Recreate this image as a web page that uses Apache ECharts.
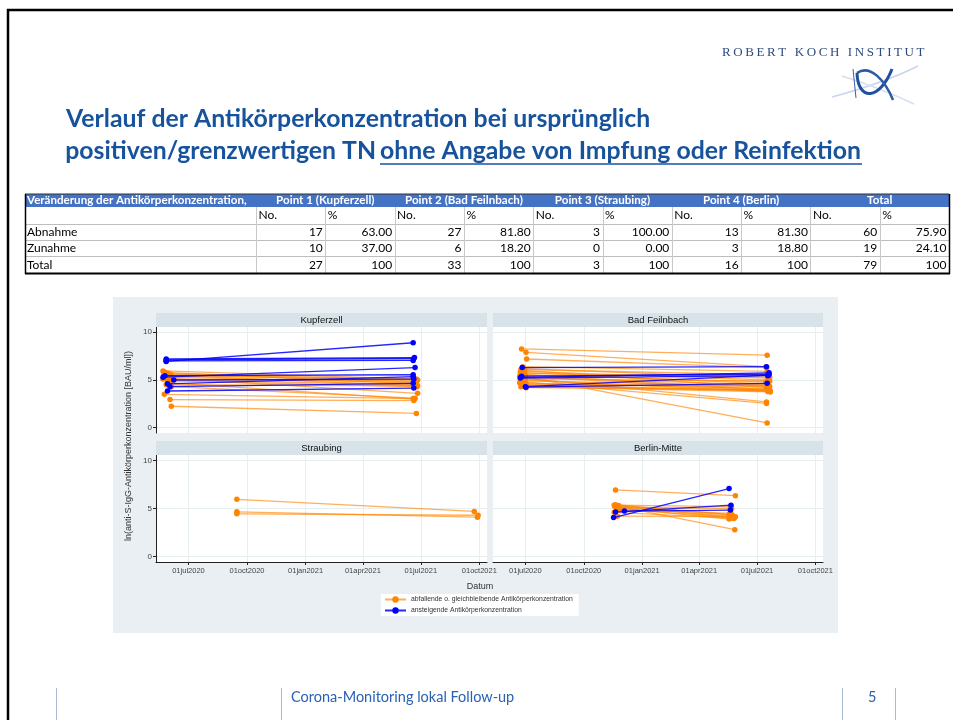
<!DOCTYPE html>
<html>
<head>
<meta charset="utf-8">
<script src="https://cdn.jsdelivr.net/npm/echarts@6/dist/echarts.min.js"></script>
<style>
html, body { margin: 0; padding: 0; background: #fff; }
#main { width: 953px; height: 720px; }
</style>
</head>
<body>
<div id="main"></div>
<script>
// ---- data ----
const panelNames = ['Kupferzell', 'Bad Feilnbach', 'Straubing', 'Berlin-Mitte'];
const xTickDates = ['2020-07-01', '2020-10-01', '2021-01-01', '2021-04-01', '2021-07-01', '2021-10-01'];
const xTickLabels = ['01jul2020', '01oct2020', '01jan2021', '01apr2021', '01jul2021', '01oct2021'];
const yTicks = [0, 5, 10];

// one row per person: [date 1, value 1, date 2, value 2]
const kupferzellFalling = [
  ['2020-05-22', 5.95, '2021-06-24', 5.1],
  ['2020-05-25', 5.8, '2021-06-21', 4.6],
  ['2020-05-30', 5.7, '2021-06-26', 5.0],
  ['2020-06-03', 5.6, '2021-06-22', 4.8],
  ['2020-05-23', 5.5, '2021-06-25', 4.4],
  ['2020-05-28', 5.4, '2021-06-19', 5.2],
  ['2020-06-01', 5.3, '2021-06-24', 4.7],
  ['2020-05-26', 5.2, '2021-06-26', 3.6],
  ['2020-05-22', 5.1, '2021-06-20', 4.9],
  ['2020-06-05', 5.0, '2021-06-23', 4.5],
  ['2020-05-29', 4.9, '2021-06-25', 4.3],
  ['2020-06-02', 4.7, '2021-06-21', 3.0],
  ['2020-05-27', 4.5, '2021-06-26', 4.4],
  ['2020-06-04', 4.3, '2021-06-22', 3.1],
  ['2020-05-24', 3.5, '2021-06-19', 3.05],
  ['2020-06-02', 2.95, '2021-06-20', 2.85],
  ['2020-06-04', 2.25, '2021-06-24', 1.5]
];
const kupferzellRising = [
  ['2020-05-27', 6.95, '2021-06-19', 8.9],
  ['2020-05-27', 7.2, '2021-06-21', 7.35],
  ['2020-05-27', 7.1, '2021-06-20', 7.25],
  ['2020-05-27', 7.0, '2021-06-19', 7.05],
  ['2020-05-22', 5.3, '2021-06-22', 6.3],
  ['2020-05-25', 5.45, '2021-06-19', 5.55],
  ['2020-05-29', 4.6, '2021-06-19', 5.35],
  ['2020-06-08', 5.0, '2021-06-20', 5.1],
  ['2020-06-02', 4.3, '2021-06-19', 4.65],
  ['2020-05-29', 3.85, '2021-06-20', 4.15]
];
const feilnbachFalling = [
  ['2020-06-25', 8.25, '2021-07-17', 7.6],
  ['2020-07-02', 7.9, '2021-07-15', 6.4],
  ['2020-07-03', 7.2, '2021-07-16', 6.3],
  ['2020-06-27', 6.4, '2021-07-17', 5.9],
  ['2020-06-28', 6.2, '2021-07-18', 5.2],
  ['2020-06-24', 6.1, '2021-07-19', 5.55],
  ['2020-06-30', 6.0, '2021-07-16', 4.2],
  ['2020-06-26', 5.9, '2021-07-20', 5.0],
  ['2020-06-23', 5.8, '2021-07-17', 4.6],
  ['2020-06-29', 5.7, '2021-07-21', 5.3],
  ['2020-06-25', 5.6, '2021-07-18', 4.0],
  ['2020-07-01', 5.5, '2021-07-15', 4.8],
  ['2020-06-22', 5.4, '2021-07-20', 3.9],
  ['2020-06-30', 5.35, '2021-07-17', 0.5],
  ['2020-06-24', 5.3, '2021-07-19', 4.5],
  ['2020-06-27', 5.2, '2021-07-16', 2.7],
  ['2020-06-23', 5.1, '2021-07-21', 4.9],
  ['2020-07-01', 5.0, '2021-07-18', 3.8],
  ['2020-06-26', 4.9, '2021-07-20', 4.4],
  ['2020-06-28', 4.8, '2021-07-16', 2.55],
  ['2020-06-22', 4.7, '2021-07-19', 4.1],
  ['2020-07-02', 4.6, '2021-07-21', 4.3],
  ['2020-06-25', 4.5, '2021-07-22', 3.85],
  ['2020-06-29', 4.45, '2021-07-18', 4.45],
  ['2020-07-03', 4.4, '2021-07-20', 3.9],
  ['2020-06-24', 4.3, '2021-07-22', 3.75],
  ['2020-07-02', 4.2, '2021-07-19', 4.0]
];
const feilnbachRising = [
  ['2020-06-26', 6.3, '2021-07-16', 6.4],
  ['2020-06-24', 5.28, '2021-07-20', 5.75],
  ['2020-06-25', 5.4, '2021-07-20', 5.6],
  ['2020-06-23', 5.2, '2021-07-18', 5.45],
  ['2020-07-02', 4.25, '2021-07-17', 4.65],
  ['2020-07-01', 4.3, '2021-07-19', 5.5]
];
const straubingFalling = [
  ['2020-09-15', 5.95, '2021-09-23', 4.7],
  ['2020-09-15', 4.65, '2021-09-28', 4.1],
  ['2020-09-15', 4.45, '2021-09-29', 4.3]
];
const straubingRising = [];
const berlinFalling = [
  ['2020-11-20', 6.93, '2021-05-28', 6.33],
  ['2020-11-18', 5.35, '2021-05-20', 5.2],
  ['2020-11-21', 5.3, '2021-05-18', 4.4],
  ['2020-11-23', 5.25, '2021-05-27', 2.8],
  ['2020-11-25', 5.3, '2021-05-26', 4.0],
  ['2020-11-19', 5.2, '2021-05-19', 4.2],
  ['2020-11-22', 5.1, '2021-05-18', 3.9],
  ['2020-11-24', 5.0, '2021-05-21', 4.5],
  ['2020-11-20', 5.4, '2021-05-23', 4.3],
  ['2020-11-26', 4.9, '2021-05-25', 4.1],
  ['2020-11-18', 4.6, '2021-05-24', 4.0],
  ['2020-11-23', 4.2, '2021-05-28', 4.15],
  ['2020-11-21', 5.15, '2021-05-22', 5.0]
];
const berlinRising = [
  ['2020-11-17', 4.06, '2021-05-18', 7.07],
  ['2020-11-20', 4.63, '2021-05-21', 5.34],
  ['2020-12-04', 4.73, '2021-05-20', 4.84]
];

// table on top of the slide
const tableGroups = ['Point 1 (Kupferzell)', 'Point 2 (Bad Feilnbach)', 'Point 3 (Straubing)', 'Point 4 (Berlin)', 'Total'];
const tableRowNames = ['Abnahme', 'Zunahme', 'Total'];
const abnahmeNo = ['17', '27', '3', '13', '60'];
const abnahmePct = ['63.00', '81.80', '100.00', '81.30', '75.90'];
const zunahmeNo = ['10', '6', '0', '3', '19'];
const zunahmePct = ['37.00', '18.20', '0.00', '18.80', '24.10'];
const totalNo = ['27', '33', '3', '16', '79'];
const totalPct = ['100', '100', '100', '100', '100'];

// ---- styles ----
const fallName = 'abfallende o. gleichbleibende Antikörperkonzentration';
const riseName = 'ansteigende Antikörperkonzentration';
const fallColor = '#ff8400';
const riseColor = '#0000ff';
const plotFont = "'Liberation Sans', Arial, sans-serif";
const slideFont = "Lato, 'Open Sans', sans-serif";
const slideBlue = '#17539c';

const day = s => echarts.time.parse(s).getTime();
const tMin = day('2020-05-11');
const tMax = day('2021-10-13');
const tickTimes = xTickDates.map(day);

const grids = [
  { left: 156, top: 327, width: 331, height: 106 },
  { left: 493, top: 327, width: 330, height: 106 },
  { left: 156, top: 455, width: 331, height: 107 },
  { left: 493, top: 455, width: 330, height: 107 }
].map(g => Object.assign(g, { show: true, backgroundColor: '#fff', borderWidth: 0, outerBoundsMode: 'none', containLabel: false }));

const xAxes = grids.map((g, i) => {
  const bottom = i >= 2;
  return {
    type: 'value', gridIndex: i, min: tMin, max: tMax,
    axisLine: { show: bottom, onZero: false, lineStyle: { color: '#222', width: 1 } },
    axisTick: { show: bottom, customValues: tickTimes, length: 3, lineStyle: { color: '#222' } },
    axisLabel: {
      show: bottom, customValues: tickTimes, margin: 5, fontSize: 7.5, color: '#444', fontFamily: plotFont,
      formatter: v => {
        const k = tickTimes.findIndex(t => Math.abs(t - v) < 86400000);
        return k < 0 ? '' : xTickLabels[k];
      }
    },
    splitLine: { show: true, lineStyle: { color: '#e6eef0', width: 1 } }
  };
});

const yAxes = grids.map((g, i) => {
  const left = i % 2 === 0;
  return {
    type: 'value', gridIndex: i, min: -0.55, max: 10.55,
    axisLine: { show: left, onZero: false, lineStyle: { color: '#222', width: 1 } },
    axisTick: { show: left, customValues: yTicks, length: 3, lineStyle: { color: '#222' } },
    axisLabel: { show: left, customValues: yTicks, margin: 4, fontSize: 8, color: '#444', fontFamily: plotFont },
    splitLine: { show: true, lineStyle: { color: '#e6eef0', width: 1 } }
  };
});

const series = [];
function addPairs(rows, panel, rising) {
  const c = rising ? riseColor : fallColor;
  rows.forEach(r => {
    series.push({
      name: rising ? riseName : fallName,
      type: 'line',
      xAxisIndex: panel,
      yAxisIndex: panel,
      data: [[day(r[0]), r[1]], [day(r[2]), r[3]]],
      symbol: 'circle',
      symbolSize: 5.5,
      showSymbol: true,
      silent: true,
      lineStyle: { width: 1.3, color: c, opacity: rising ? 0.85 : 0.65 },
      itemStyle: { color: c },
      z: rising ? 3 : 2
    });
  });
}
addPairs(kupferzellFalling, 0, false);
addPairs(feilnbachFalling, 1, false);
addPairs(straubingFalling, 2, false);
addPairs(berlinFalling, 3, false);
addPairs(kupferzellRising, 0, true);
addPairs(feilnbachRising, 1, true);
addPairs(straubingRising, 2, true);
addPairs(berlinRising, 3, true);

// ---- static slide parts ----
const graphic = [];
function txt(x, y, text, size, opt) {
  opt = opt || {};
  graphic.push({
    type: 'text', x: x, y: y, z: opt.z || 10, rotation: opt.rotation || 0,
    style: {
      text: text, fontSize: size, fontFamily: opt.font || slideFont, fontWeight: opt.weight || 'normal',
      fill: opt.color || '#000', align: opt.align || 'left', verticalAlign: 'middle'
    }
  });
}
function ln(x1, y1, x2, y2, color, w, z) {
  graphic.push({ type: 'line', z: z || 10, shape: { x1: x1, y1: y1, x2: x2, y2: y2 }, style: { stroke: color, lineWidth: w || 1 } });
}
function box(x, y, w, h, fill, z) {
  graphic.push({ type: 'rect', z: z || 0, shape: { x: x, y: y, width: w, height: h }, style: { fill: fill } });
}

// slide frame
ln(7, 10, 953, 10, '#000', 2.5);
ln(8, 9, 8, 720, '#000', 2.5);

// RKI logo
txt(722, 53, 'ROBERT KOCH INSTITUT'.split('').join('\u2009'), 13, { font: "'Liberation Serif', 'DejaVu Serif', serif", color: '#2c4a7e' });
graphic.push({ type: 'bezierCurve', z: 9, shape: { x1: 832, y1: 97, cpx1: 858, cpy1: 90, cpx2: 890, cpy2: 80, x2: 918, y2: 66 }, style: { stroke: '#c9d5ea', lineWidth: 1.5, fill: null } });
graphic.push({ type: 'bezierCurve', z: 9, shape: { x1: 842, y1: 76, cpx1: 868, cpy1: 84, cpx2: 895, cpy2: 95, x2: 914, y2: 104 }, style: { stroke: '#d6def0', lineWidth: 1.5, fill: null } });
graphic.push({ type: 'line', z: 10, shape: { x1: 853, y1: 69, x2: 856, y2: 98 }, style: { stroke: '#3560a8', lineWidth: 1 } });
graphic.push({ type: 'bezierCurve', z: 10, shape: { x1: 857, y1: 73, cpx1: 858, cpy1: 102, cpx2: 880, cpy2: 100, x2: 892, y2: 69 }, style: { stroke: '#1f4f9e', lineWidth: 3, fill: null } });
graphic.push({ type: 'bezierCurve', z: 10, shape: { x1: 857, y1: 73, cpx1: 870, cpy1: 64, cpx2: 885, cpy2: 80, x2: 893, y2: 100 }, style: { stroke: '#2b5aa6', lineWidth: 2.5, fill: null } });

// title
txt(66, 119, 'Verlauf der Antikörperkonzentration bei ursprünglich', 24.8, { weight: 'bold', color: slideBlue });
txt(376, 151, 'positiven/grenzwertigen TN', 24.8, { weight: 'bold', color: slideBlue, align: 'right' });
txt(380, 151, 'ohne Angabe von Impfung oder Reinfektion', 24.8, { weight: 'bold', color: slideBlue });
ln(380, 164, 862, 164, slideBlue, 1.5);

// table
const tLeft = 25, tRight = 949, c0 = 256, colW = 69.3;
const rowTop = [194, 207, 224, 240, 256, 273];
box(tLeft, rowTop[0], tRight - tLeft, rowTop[1] - rowTop[0], '#4472c4', 5);
txt(27, 200.5, 'Veränderung der Antikörperkonzentration,', 11.6, { weight: 'bold', color: '#fff' });
tableGroups.forEach((g, k) => txt(c0 + colW * (2 * k + 1), 200.5, g, 11.6, { weight: 'bold', color: '#fff', align: 'center' }));
for (let k = 0; k < 10; k++) {
  txt(c0 + colW * k + 2.5, 215.5, k % 2 === 0 ? 'No.' : '%', 12, {});
}
const rowNo = [abnahmeNo, zunahmeNo, totalNo];
const rowPct = [abnahmePct, zunahmePct, totalPct];
tableRowNames.forEach((name, r) => {
  const yc = (rowTop[r + 2] + rowTop[r + 3]) / 2 + 0.5;
  txt(27, yc, name, 12, {});
  for (let k = 0; k < 5; k++) {
    txt(c0 + colW * (2 * k + 1) - 2.5, yc, rowNo[r][k], 12, { align: 'right' });
    txt(c0 + colW * (2 * k + 2) - 2.5, yc, rowPct[r][k], 12, { align: 'right' });
  }
});
[224, 240, 256].forEach(y => ln(tLeft, y + 0.5, tRight, y + 0.5, '#bdbdbd', 1));
for (let k = 0; k < 10; k++) {
  const x = Math.round(c0 + colW * k) + 0.5;
  ln(x, 207, x, 273, '#c8c8c8', 1);
}
ln(tLeft, 194, tRight, 194, '#333', 1, 11);
ln(tLeft + 0.5, 194, tLeft + 0.5, 274, '#000', 1.5, 11);
ln(tRight + 0.5, 194, tRight + 0.5, 274, '#000', 1.5, 11);
ln(tLeft, 273.5, tRight + 1, 273.5, '#000', 2, 11);

// chart image background and panel strips
box(113, 297, 725, 336, '#e9eff2', -5);
grids.forEach((g, i) => {
  box(g.left, g.top - 14, g.width, 14, '#d7e3e9', 1);
  txt(g.left + g.width / 2, g.top - 7, panelNames[i], 9.5, { font: plotFont, color: '#111', align: 'center' });
});
txt(129, 446, 'ln(anti-S-IgG-Antikörperkonzentration [BAU/ml])', 9, { font: plotFont, color: '#333', align: 'center', rotation: Math.PI / 2 });
txt(480, 587, 'Datum', 9, { font: plotFont, color: '#333', align: 'center' });

// footer
[56, 281, 842, 895].forEach(x => ln(x + 0.5, 688, x + 0.5, 720, '#a9bbd3', 1));
txt(291, 697, 'Corona-Monitoring lokal Follow-up', 14.5, { color: '#2961b3' });
txt(868, 697, '5', 14.5, { color: '#2961b3' });

const chart = echarts.init(document.getElementById('main'), null, { renderer: 'canvas' });
chart.setOption({
  animation: false,
  backgroundColor: '#fff',
  grid: grids,
  xAxis: xAxes,
  yAxis: yAxes,
  legend: {
    data: [fallName, riseName],
    orient: 'vertical',
    left: 381,
    top: 594,
    padding: [2, 6, 2, 3],
    itemWidth: 21,
    itemHeight: 8,
    itemGap: 4,
    backgroundColor: '#fff',
    selectedMode: false,
    textStyle: { fontSize: 6.8, color: '#333', fontFamily: plotFont }
  },
  graphic: graphic,
  series: series
});
window.onresize = function () { chart.resize(); };
</script>
</body>
</html>
